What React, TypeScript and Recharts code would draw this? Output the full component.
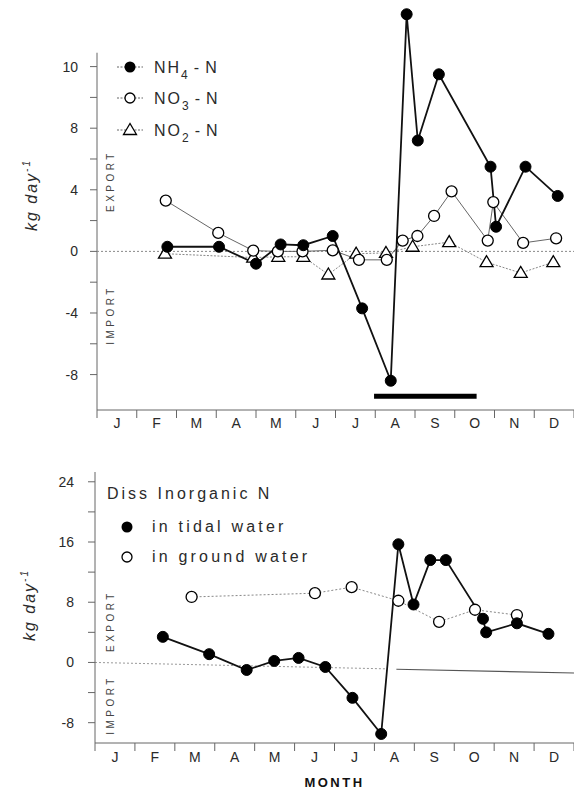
import React from "react";
import { LineChart, Line, XAxis, YAxis, ReferenceLine } from "recharts";

// month labels, ticks sit on month boundaries (0 = start of Jan)
const MONTHS = ["J", "F", "M", "A", "M", "J", "J", "A", "S", "O", "N", "D"];
const MONTH_TICKS = [0, 1, 2, 3, 4, 5, 6, 7, 8, 9, 10, 11, 12];

// top panel: fluxes by nitrogen species (kg/day)
const nh4Month = [1.77, 3.07, 4.0, 4.62, 5.19, 5.93, 6.67, 7.39, 7.79, 8.07, 8.6, 9.9, 10.04, 10.78, 11.59];
const nh4Value = [0.3, 0.3, -0.8, 0.45, 0.4, 1.0, -3.7, -8.4, 15.4, 7.2, 11.5, 5.5, 1.6, 5.5, 3.6];
const no3Month = [1.73, 3.05, 3.93, 4.55, 5.17, 5.93, 6.59, 7.29, 7.69, 8.06, 8.48, 8.92, 9.83, 9.97, 10.72, 11.55];
const no3Value = [3.3, 1.2, 0.05, 0, 0, 0.07, -0.55, -0.55, 0.7, 1.0, 2.3, 3.9, 0.7, 3.2, 0.55, 0.85];
const no2Month = [1.71, 3.93, 4.56, 5.19, 5.82, 6.52, 7.27, 7.94, 8.86, 9.8, 10.66, 11.48];
const no2Value = [-0.15, -0.4, -0.35, -0.35, -1.5, -0.15, -0.1, 0.3, 0.6, -0.7, -1.4, -0.7];
const topTicks = [-8, -6, -4, -2, 0, 2, 4, 6, 8, 10, 12];
// the printed axis carries "10" at the 12 mark
const topTickLabels: Record<number, string> = { [-8]: "-8", [-4]: "-4", 0: "0", 4: "4", 8: "8", 12: "10" };
const TOP_AXIS_SPAN = [-10.3, 12.9];
const SUMMER_BAR = { from: 6.97, to: 9.55, level: -9.4 };

// bottom panel: dissolved inorganic N
const tidalMonth = [1.7, 2.86, 3.8, 4.49, 5.1, 5.77, 6.45, 7.17, 7.6, 7.98, 8.4, 8.79, 9.72, 9.8, 10.57, 11.36];
const tidalValue = [3.4, 1.1, -1.0, 0.2, 0.6, -0.6, -4.7, -9.5, 15.7, 7.7, 13.6, 13.6, 5.8, 4.0, 5.2, 3.8];
const groundMonth = [2.42, 5.51, 6.43, 7.6, 8.62, 9.52, 10.57];
const groundValue = [8.7, 9.2, 10.0, 8.2, 5.4, 7.0, 6.3];
const bottomTicks = [-8, -4, 0, 4, 8, 12, 16, 20, 24];

const rows = (ms: number[], vs: number[]) => ms.map((m, i) => ({ m, v: vs[i] }));

const FONT = "'Liberation Sans', Arial, sans-serif";
const INK = "#2a2a2a";

const monthTick = (monthW: number) => (props: any) => {
  const { x, y, payload } = props;
  const i = payload.value;
  if (i >= 12) return <g />;
  return (
    <text x={x + monthW / 2} y={y} dy="0.71em" textAnchor="middle" fontSize={14} fontFamily={FONT} fill={INK}>
      {MONTHS[i]}
    </text>
  );
};

const triangleDot = (props: any) => {
  const { cx, cy, index } = props;
  if (cx == null || cy == null) return <g key={index} />;
  return (
    <polygon
      key={index}
      points={`${cx},${cy - 6.5} ${cx - 6.5},${cy + 4.5} ${cx + 6.5},${cy + 4.5}`}
      fill="#fff"
      stroke="#000"
      strokeWidth={1.3}
      strokeDasharray="none"
    />
  );
};

const filledDot = { r: 5.5, fill: "#000", stroke: "#000", strokeWidth: 1, strokeDasharray: "none" };
const openDot = { r: 5.5, fill: "#fff", stroke: "#000", strokeWidth: 1.3, strokeDasharray: "none" };

function SideWords({ exportY, importY }: { exportY: number; importY: number }) {
  const st = { fontSize: 10, fontFamily: FONT, fill: "#444", letterSpacing: 3.5 };
  return (
    <>
      <text transform={`translate(114,${exportY}) rotate(-90)`} textAnchor="middle" {...st}>EXPORT</text>
      <text transform={`translate(114,${importY}) rotate(-90)`} textAnchor="middle" {...st}>IMPORT</text>
    </>
  );
}

function KgLabel({ x, y }: { x: number; y: number }) {
  return (
    <text transform={`translate(${x},${y}) rotate(-90)`} textAnchor="middle" fontSize={16} fontStyle="italic" fontFamily={FONT} fill={INK} letterSpacing={2}>
      kg day<tspan dy={-7} fontSize={10}>-1</tspan>
    </text>
  );
}

function Species({ y, main, sub, mark }: { y: number; main: string; sub: string; mark: React.ReactNode }) {
  return (
    <g>
      <line x1={117} x2={143} y1={y} y2={y} stroke="#666" strokeWidth={1} strokeDasharray="2 1.5" />
      {mark}
      <text x={154} y={y + 6} fontSize={16} fontFamily={FONT} fill={INK} letterSpacing={2}>
        {main}
        <tspan dy={6} fontSize={12}>{sub}</tspan>
        <tspan dy={-6} dx={4}>-</tspan>
        <tspan dx={4}>N</tspan>
      </text>
    </g>
  );
}

export default function App() {
  const W = 574;
  const TOP_H = 440;
  const BOT_H = 354;
  const tickStyle = { fontSize: 14, fontFamily: FONT, fill: INK };

  return (
    <div style={{ position: "absolute", left: 0, top: 0, width: W, height: 794, background: "#fff" }}>
      {/* top panel */}
      <div style={{ position: "relative", width: W, height: TOP_H }}>
        <LineChart width={W} height={TOP_H} margin={{ top: 5, right: 0, bottom: 0, left: 0 }}>
          <XAxis
            dataKey="m"
            type="number"
            domain={[0, 12]}
            ticks={MONTH_TICKS}
            interval={0}
            height={30}
            stroke="#666"
            tickSize={8}
            tickMargin={0}
            tick={monthTick((W - 97) / 12)}
          />
          <YAxis
            type="number"
            domain={[-10.3, 16]}
            ticks={topTicks}
            interval={0}
            width={97}
            axisLine={false}
            tickLine={{ stroke: "#666" }}
            tickSize={7}
            tickMargin={12}
            tick={tickStyle}
            tickFormatter={(v: number) => topTickLabels[v] ?? ""}
          />
          <ReferenceLine
            segment={[{ x: 0, y: TOP_AXIS_SPAN[0] }, { x: 0, y: TOP_AXIS_SPAN[1] }]}
            stroke="#666"
            strokeWidth={1}
          />
          <ReferenceLine y={0} stroke="#888" strokeDasharray="2 2" />
          <ReferenceLine
            segment={[{ x: SUMMER_BAR.from, y: SUMMER_BAR.level }, { x: SUMMER_BAR.to, y: SUMMER_BAR.level }]}
            stroke="#000"
            strokeWidth={5}
          />
          <Line data={rows(no2Month, no2Value)} dataKey="v" type="linear" stroke="#888" strokeWidth={1} strokeDasharray="2 1.5" dot={triangleDot} activeDot={false} isAnimationActive={false} />
          <Line data={rows(no3Month, no3Value)} dataKey="v" type="linear" stroke="#555" strokeWidth={0.9} dot={openDot} activeDot={false} isAnimationActive={false} />
          <Line data={rows(nh4Month, nh4Value)} dataKey="v" type="linear" stroke="#111" strokeWidth={1.8} dot={filledDot} activeDot={false} isAnimationActive={false} />
        </LineChart>
        <svg width={W} height={TOP_H} style={{ position: "absolute", left: 0, top: 0, pointerEvents: "none" }}>
          <KgLabel x={37} y={195} />
          <SideWords exportY={181} importY={315} />
          <Species y={67} main="NH" sub="4" mark={<circle cx={130} cy={67} r={5.5} fill="#000" />} />
          <Species y={98} main="NO" sub="3" mark={<circle cx={130} cy={98} r={5} fill="#fff" stroke="#000" strokeWidth={1.3} />} />
          <Species
            y={130}
            main="NO"
            sub="2"
            mark={<polygon points="130,123.5 123.5,134.5 136.5,134.5" fill="#fff" stroke="#000" strokeWidth={1.3} />}
          />
        </svg>
      </div>

      {/* bottom panel */}
      <div style={{ position: "relative", width: W, height: BOT_H }}>
        <LineChart width={W} height={BOT_H} margin={{ top: 32, right: 0, bottom: 0, left: 0 }}>
          <XAxis
            dataKey="m"
            type="number"
            domain={[0, 12]}
            ticks={MONTH_TICKS}
            interval={0}
            height={51}
            stroke="#666"
            tickSize={8}
            tickMargin={1}
            tick={monthTick((W - 95) / 12)}
            label={{
              value: "MONTH",
              position: "insideBottom",
              offset: 7,
              style: { fontSize: 13, fontWeight: 700, fontFamily: FONT, fill: "#111", letterSpacing: 2.5 },
            }}
          />
          <YAxis
            type="number"
            domain={[-10.7, 25.3]}
            ticks={bottomTicks}
            interval={0}
            width={95}
            stroke="#666"
            tickSize={7}
            tickMargin={14}
            tick={tickStyle}
            tickFormatter={(v: number) => (v % 8 === 0 ? String(v) : "")}
          />
          <ReferenceLine segment={[{ x: 0, y: 0 }, { x: 7.3, y: -0.85 }]} stroke="#999" strokeDasharray="2 2" />
          <ReferenceLine segment={[{ x: 7.55, y: -0.9 }, { x: 12, y: -1.4 }]} stroke="#555" strokeWidth={1.2} />
          <Line data={rows(groundMonth, groundValue)} dataKey="v" type="linear" stroke="#888" strokeWidth={1} strokeDasharray="2 2" dot={openDot} activeDot={false} isAnimationActive={false} />
          <Line data={rows(tidalMonth, tidalValue)} dataKey="v" type="linear" stroke="#111" strokeWidth={1.8} dot={filledDot} activeDot={false} isAnimationActive={false} />
        </LineChart>
        <svg width={W} height={BOT_H} style={{ position: "absolute", left: 0, top: 0, pointerEvents: "none" }}>
          <KgLabel x={35} y={165} />
          <SideWords exportY={181} importY={265} />
          <text x={107} y={59} fontSize={16} fontFamily={FONT} fill={INK} letterSpacing={3}>
            Diss  Inorganic  N
          </text>
          <circle cx={127} cy={87} r={5.5} fill="#000" />
          <text x={152} y={92} fontSize={16} fontFamily={FONT} fill={INK} letterSpacing={3.2}>
            in tidal water
          </text>
          <circle cx={127} cy={117} r={5} fill="#fff" stroke="#000" strokeWidth={1.3} />
          <text x={152} y={122} fontSize={16} fontFamily={FONT} fill={INK} letterSpacing={3.2}>
            in ground water
          </text>
        </svg>
      </div>
    </div>
  );
}
